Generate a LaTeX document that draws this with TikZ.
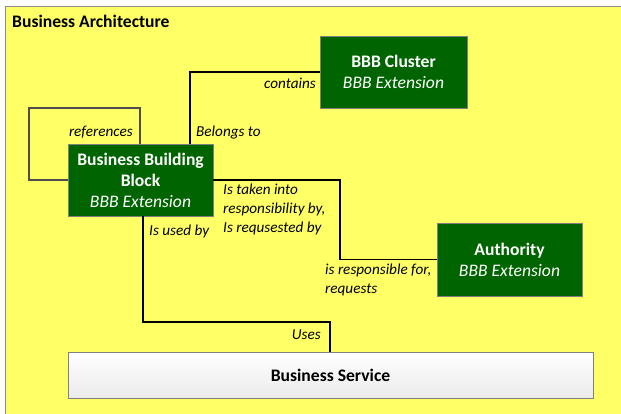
\documentclass[tikz,border=0pt]{standalone}
\usepackage{fontspec}
\setmainfont{Carlito}
\usetikzlibrary{calc}
\definecolor{panel}{HTML}{FFFF66}
\definecolor{bbbgreen}{HTML}{006400}
\definecolor{edgegray}{HTML}{7F7F7F}
\definecolor{loopgray}{HTML}{4D4D4D}
\begin{document}
\begin{tikzpicture}[x=1pt,y=-1pt,
  greenbox/.style={draw=edgegray,line width=0.6pt,fill=bbbgreen,text=white,
    minimum width=#1,minimum height=72pt,inner sep=0pt,align=center,
    font=\fontsize{17.6}{21}\selectfont},
  greenbox/.default=145pt,
  servicebox/.style={draw=edgegray,line width=0.6pt,top color=white,bottom color=black!8,
    minimum width=525pt,minimum height=46pt,inner sep=0pt,
    font=\fontsize{17.6}{21}\selectfont\bfseries},
  rel/.style={line width=1.7pt,black},
  lbl/.style={font=\fontsize{15.2}{19}\selectfont\itshape,inner sep=0pt,align=left},
]
\useasboundingbox (0,0) rectangle (621,413);
% panel
\fill[white] (0,0) rectangle (621,413);
\draw[fill=panel,draw=black!45,line width=0.8pt] (5,6) rectangle (630,420);
\node[anchor=west,font=\fontsize{17.6}{21}\selectfont\bfseries,inner sep=0pt] (title) at (12,21) {Business Architecture};

% boxes
\node[greenbox=147pt] (cluster) at (393.5,72) {\textbf{BBB Cluster}\\\itshape BBB Extension};
\node[greenbox=145pt,minimum height=72pt] (bbb) at (140.5,180) {\textbf{Business Building}\\\textbf{Block}\\\itshape BBB Extension};
\node[greenbox=145pt,minimum height=73pt] (auth) at (509.5,259.5) {\textbf{Authority}\\\itshape BBB Extension};
\node[servicebox] (svc) at (330.5,375) {Business Service};

% references (self loop)
\coordinate (r1) at (29,180);
\coordinate (r2) at (140,108);
\draw[line width=1.4pt,loopgray] (bbb.west) -- (r1) |- (r2) -- (bbb.north -| r2);
\node[lbl,anchor=base east] (lref) at (133,136) {references};

% belongs to / contains
\coordinate (b1) at (190,72);
\draw[rel] (bbb.north -| b1) -- (b1) -- (cluster.west);
\node[lbl,anchor=base west] (lbel) at (196,136) {Belongs to};
\node[lbl,anchor=base east] (lcon) at (316,88) {contains};

% responsibility
\coordinate (a1) at (340,180);
\draw[rel] (bbb.east) -- (a1) |- (auth.west);
\node[lbl,anchor=base west] (ltak) at (223,232) {Is taken into\\responsibility by,\\Is requsested by};
\node[lbl,anchor=base west] (lres) at (325,293) {is responsible for,\\requests};

% uses
\coordinate (u1) at (143,322);
\coordinate (u2) at (330,322);
\draw[rel] (bbb.south -| u1) -- (u1) -- (u2) -- (svc.north -| u2);
\node[lbl,anchor=base west] (lusd) at (149,235) {Is used by};
\node[lbl,anchor=base east] (luse) at (321,339) {Uses};
\end{tikzpicture}
\end{document}
